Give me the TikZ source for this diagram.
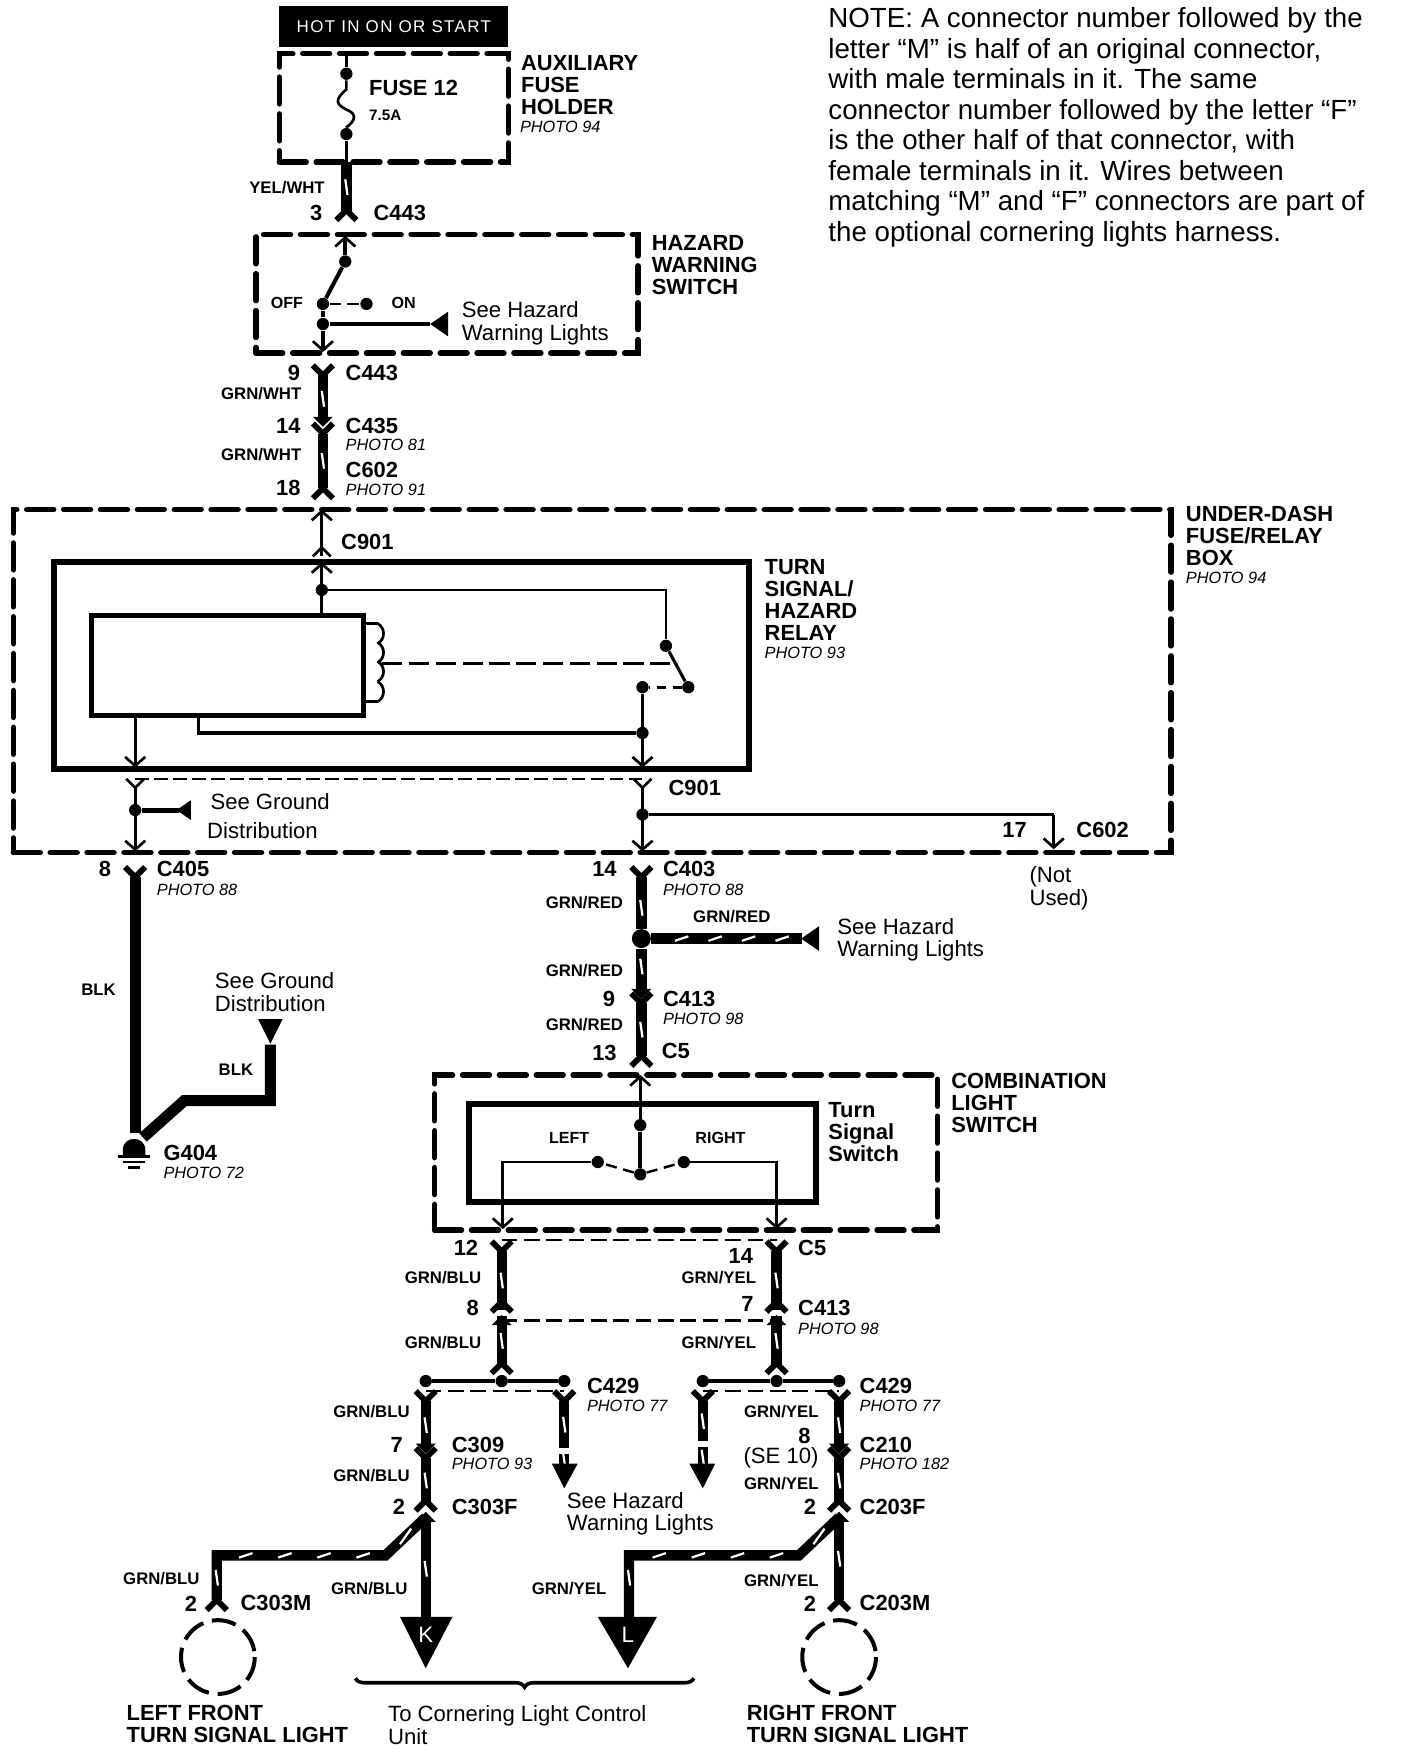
\documentclass[tikz,border=0pt]{standalone}
\usepackage{fontspec}
\setmainfont{Liberation Sans}
\usetikzlibrary{arrows.meta}
\usetikzlibrary{calc}
\usetikzlibrary{fit}
\usetikzlibrary{decorations.pathreplacing}

\tikzset{
  lab/.style={anchor=west,inner sep=0pt,align=left,font=\fontsize{9.8}{9.85}\selectfont\bfseries},
  conn/.style={anchor=west,inner sep=0pt,font=\fontsize{9.8}{10}\selectfont\bfseries},
  num/.style={inner sep=0pt,font=\fontsize{9.8}{10}\selectfont\bfseries},
  wcol/.style={anchor=east,inner sep=0pt,font=\fontsize{7.5}{8}\selectfont\bfseries},
  phot/.style={anchor=west,inner sep=0pt,font=\fontsize{7.3}{8}\selectfont\itshape},
  plain/.style={anchor=west,inner sep=0pt,align=left,font=\fontsize{9.9}{10}\selectfont},
  dot/.style={circle,fill=black,inner sep=0pt,minimum size=5.5pt},
  dashbox/.style={draw,inner sep=0pt,line width=2.5pt,line cap=round,dash pattern=on 12pt off 4.5pt},
  solidbox/.style={draw,inner sep=0pt,line width=2.8pt},
  thin wire/.style={line width=1.2pt},
  wire/.style={line width=4.6pt},
  whitetick/.style={draw=white,line width=1pt},
  thindash/.style={line width=1.1pt,dash pattern=on 7pt off 3pt},
  barb/.style={-{Straight Barb[length=4pt,width=9pt,line width=1.2pt]},line width=1.2pt},
  forkline/.style={line width=2.6pt,line join=round},
  forkup/.pic={\draw[forkline] (-9,9) -- (0,0) -- (9,9);},
  forkdn/.pic={\draw[forkline] (-9,-9) -- (0,0) -- (9,-9);},
  slimup/.pic={\draw[line width=1.2pt] (-8,8) -- (0,0) -- (8,8);},
  slimdn/.pic={\draw[line width=1.2pt] (-8,-8) -- (0,0) -- (8,-8);},
  headdn/.pic={\fill (-9,-8) -- (9,-8) -- (0,1) -- cycle;},
  headup/.pic={\fill (-9,8) -- (9,8) -- (0,-1) -- cycle;},
  triL/.pic={\fill (0,0) -- (16,-11) -- (16,11) -- cycle;},
  triD/.pic={\fill (0,0) -- (-11,-22) -- (11,-22) -- cycle;},
}

% harness wire with its white mark
\newcommand{\wirerun}[2]{
  \draw[wire] (#1) -- (#2);
  \draw[whitetick] ($(#1)!.5!(#2)+(-1,-7)$) -- ($(#1)!.5!(#2)+(1,7)$);
}
\newcommand{\htick}[2]{\draw[whitetick] (#1-6,#2+2) -- (#1+6,#2-2);}
\newcommand{\vtick}[2]{\draw[whitetick] (#1-1,#2-7) -- (#1+1,#2+7);}

\begin{document}
\begin{tikzpicture}[x=.5pt,y=-.5pt]
        \useasboundingbox (0,0) rectangle (1260,1568);

        % Note
        \node[anchor=north west,inner sep=0pt,align=left,font=\fontsize{12.4}{13.65}\selectfont] (note) at (741,6.5)
          {NOTE: A connector number followed by the\\letter ``M'' is half of an original connector,\\with male terminals in it. The same\\connector number followed by the letter ``F''\\is the other half of that connector, with\\female terminals in it. Wires between\\matching ``M'' and ``F'' connectors are part of\\the optional cornering lights harness.};

        % Boxes
        \node[fill=black,text=white,inner sep=0pt,minimum width=102.5pt,minimum height=18.5pt,font=\fontsize{7.6}{8}\selectfont\addfontfeature{LetterSpace=8}] (hot) at (352.5,24) {\raisebox{-1pt}{HOT IN ON OR START}};
        \node[dashbox,fit={(250,48)(455,145)}] (fusebox) {};
        \node[dashbox,fit={(229,210)(571,316)}] (hazbox) {};
        \node[dashbox,fit={(12,456)(1048,763)}] (dashfuse) {};
        \node[solidbox,fit={(48,503)(670,688)}] (relay) {};
        \node[draw,inner sep=0pt,line width=2.2pt,fit={(82,551)(325,640)}] (relayin) {};
        \node[dashbox,fit={(389,962)(839,1101)}] (combo) {};
        \node[solidbox,fit={(420,988)(730,1076)}] (turnsw) {};

        % Dots
        \foreach \n/\x/\y in {fa/310/66,fb/310/120,ha/309/234,hb/289/272,hc/328/272,hd/289/290,
          ra/288/528,rb/596/578,rc/616/615,rd/575/615,re/575/656,ga/121/725,ua/575/729,
          ta/573/1007,tb/535/1040,tc/612/1040,td/573/1051,
          la/381/1236,lb/449/1236,lc/505/1236,ma/629/1236,mb/695/1236,mc/751/1236}
        {
          \node[dot] (\n) at (\x,\y) {};
        }
        \node[dot,minimum size=8.5pt] (sp) at (574,840) {};

        % Wire ends
        \foreach \n/\x/\y in {f0/310/48,f1/310/145,f2/310/190,h0/309/211,h1/289/315,h2/385/290,
          a1/289/336,a2/289/378,a3/289/388,a4/289/437,
          u0/288/456,u1/288/490,u2/288/503,u3/288/551,u4/121/640,u5/121/687,u6/575/687,
          v1/121/705,v2/121/762,v3/575/705,v4/575/762,v5/943/729,v6/943/760,
          b1/121/785,b2/121/1014,b3/242/935,b4/242/985,b5/165/985,b6/128/1018,
          c1/574/785,c2/574/890,c3/574/898,c4/574/945,c5/718/840,
          s0/573/962,s1/450/1040,s2/450/1100,s3/695/1040,s4/695/1100,
          d1/449/1120,d2/449/1172,d3/449/1178,d4/449/1222,
          e1/695/1120,e2/695/1172,e3/695/1178,e4/695/1222,
          j1/381/1254,j2/381/1297,j3/381/1305,j4/381/1345,j5/381/1358,j6/381/1450,j7/345/1392,j8/194/1392,j9/194/1432,
          k1/505/1254,k2/505/1296,k3/505/1301,k4/505/1314,
          m1/629/1254,m2/629/1290,m3/629/1295,m4/629/1314,
          n1/751/1254,n2/751/1297,n3/751/1305,n4/751/1345,n5/751/1358,n6/751/1432,n7/715/1392,n8/563/1392,n9/563/1450}
        {
          \coordinate (\n) at (\x,\y);
        }

        % Fuse
        \draw[thin wire] (f0) -- (fa);
        \draw[thin wire] (fa) -- (310,80) .. controls (298,90) and (302,94) .. (310,98) .. controls (320,102) and (318,108) .. (310,114) -- (fb);
        \draw[thin wire] (fb) -- (f1);
        \wirerun{f1}{f2}
        \pic at (310,188) {forkup};

        % Hazard switch
        \draw[barb,line width=1.6pt] (ha) -- (h0);
        \draw[line width=1.8pt] (ha) -- (hb);
        \draw[thindash,dash pattern=on 5pt off 3pt] (hb) -- (hc);
        \draw[line width=1.8pt] (hb) -- (hd);
        \draw[barb,line width=1.6pt] (hd) -- (h1);
        \draw[line width=1.6pt] (hd) -- (h2);
        \pic at (h2) {triL};

        % Harness to under-dash box
        \pic at (a1) {forkdn};
        \wirerun{a1}{a2}
        \pic at (289,381) {headdn};
        \pic at (a3) {forkdn};
        \wirerun{a3}{a4}
        \pic at (a4) {forkup};

        % Under-dash box top
        \draw[barb] (u1) -- (u0);
        \draw[line width=1.2pt] (u1) -- (288,498);
        \pic at (u1) {slimup};
        \draw[barb] (u3) -- (u2);

        % Relay
        \draw[line width=1.2pt] (ra) -- (596,528) -- (rb);
        \draw[line width=1.4pt] (rb) -- (rc);
        \draw[thindash,line width=1.3pt,dash pattern=on 4pt off 3pt] (rc) -- (rd);
        \draw[barb] (rd) -- (u6);
        \draw[line width=1.4pt] (178,640) -- (178,656) -- (re);
        \draw[barb] (u4) -- (u5);
        \draw[line width=1.2pt] (325,558) -- (338,558);
        \draw[line width=1.2pt] (338,628) -- (325,628);
        \foreach \y in {558,575,592,610}
        {
          \draw[line width=1.2pt] (338,\y) .. controls (345,\y+4) and (345,\y+14) .. (338,\y+18);
        }
        \draw[line width=1.6pt,dash pattern=on 9pt off 3pt] (342,594) -- (606,594);

        % Relay outputs
        \draw[thindash,dash pattern=on 6pt off 2.5pt] (121,697) -- (575,697);
        \pic at (v1) {slimdn};
        \pic at (v3) {slimdn};
        \draw[barb] (v1) -- (v2);
        \draw[barb] (v3) -- (v4);
        \draw[line width=2.2pt] (ga) -- (160,725);
        \pic[scale=.8] at (158,725) {triL};
        \draw[line width=1.6pt] (ua) -- (v5);
        \draw[barb] (v5) -- (v6);

        % Ground wire
        \pic at (b1) {forkdn};
        \draw[wire,line width=5pt] (b1) -- (b2);
        \pic[scale=1] at (242,934) {triD};
        \draw[wire,line width=5pt] (b3) -- (b4) -- (b5) -- (b6);
        \fill (110,1034) -- (110,1029) .. controls (110,1016) and (130,1016) .. (130,1029) -- (130,1034) -- cycle;
        \draw[line width=1.2pt] (106,1035) -- (134,1035);
        \draw[line width=1.2pt] (110,1040) -- (130,1040);
        \draw[line width=1.2pt] (115,1045) -- (125,1045);

        % Centre harness
        \pic at (c1) {forkdn};
        \wirerun{c1}{sp}
        \draw[wire] (sp) -- (c5);
        \foreach \x in {610,640,670,700}
        {
          \htick{\x}{840}
        }
        \pic at (717,840) {triL};
        \wirerun{sp}{c2}
        \pic at (574,893) {headdn};
        \pic at (c3) {forkdn};
        \wirerun{c3}{c4}
        \pic at (c4) {forkup};

        % Turn signal switch
        \draw[barb] (ta) -- (s0);
        \draw[line width=1.8pt] (ta) -- (td);
        \draw[thindash,dash pattern=on 5pt off 3pt] (td) -- (tb);
        \draw[thindash,dash pattern=on 5pt off 3pt] (td) -- (tc);
        \draw[barb] (tb) -- (s1) -- (s2);
        \draw[barb] (tc) -- (s3) -- (s4);

        % Left and right harness
        \draw[thindash] (449,1110) -- (695,1110);
        \draw[thindash] (449,1182) -- (695,1182);
        \foreach \a/\b/\c/\d/\x in {d1/d2/d3/d4/449,e1/e2/e3/e4/695}
        {
          \pic at (\a) {forkdn};
          \wirerun{\a}{\b}
          \pic at (\x,1165) {forkup};
          \pic at (\x,1178) {headup};
          \wirerun{\c}{\d}
          \pic at (\x,1220) {forkup};
        }

        % C429 bars
        \draw[line width=1.8pt] (la) -- (lb) -- (lc);
        \draw[line width=1.8pt] (ma) -- (mb) -- (mc);
        \draw[thindash] (381,1245) -- (505,1245);
        \draw[thindash] (629,1245) -- (751,1245);
        \foreach \a in {j1,k1,m1,n1}
        {
          \pic at (\a) {forkdn};
        }

        % Side branches
        \wirerun{j1}{j2}
        \pic at (381,1300) {headdn};
        \pic at (j3) {forkdn};
        \wirerun{j3}{j4}
        \pic at (381,1343) {forkup};
        \pic at (381,1354) {headup};
        \wirerun{j5}{j6}
        \draw[wire,line join=miter] (j5) -- (j7) -- (j8) -- (j9);
        \pic at (j9) {forkup};
        \foreach \x in {220,255,290,325}
        {
          \htick{\x}{1392}
        }
        \vtick{194}{1412}
        \draw[whitetick] (368,1368) -- (358,1382);
        \wirerun{n1}{n2}
        \pic at (751,1300) {headdn};
        \pic at (n3) {forkdn};
        \wirerun{n3}{n4}
        \pic at (751,1343) {forkup};
        \pic at (751,1354) {headup};
        \wirerun{n5}{n6}
        \pic at (n6) {forkup};
        \draw[wire,line join=miter] (n5) -- (n7) -- (n8) -- (n9);
        \foreach \x in {590,625,660,695}
        {
          \htick{\x}{1392}
        }
        \vtick{563}{1412}
        \draw[whitetick] (738,1368) -- (728,1382);

        % Arrows to hazard lights
        \wirerun{k1}{k2}
        \wirerun{k3}{k4}
        \wirerun{m1}{m2}
        \wirerun{m3}{m4}
        \fill (494,1310) -- (517,1310) -- (505,1332) -- cycle;
        \fill (617,1310) -- (640,1310) -- (629,1332) -- cycle;

        % K and L arrows
        \fill (358,1447) -- (405,1447) -- (381,1493) -- cycle;
        \fill (535,1447) -- (588,1447) -- (562,1493) -- cycle;
        \node[text=white,font=\fontsize{10}{10}\selectfont,inner sep=0pt] (kk) at (381,1463) {K};
        \node[text=white,font=\fontsize{10}{10}\selectfont,inner sep=0pt] (ll) at (562,1463) {L};

        % Lamps
        \draw[line width=1.8pt,dash pattern=on 11pt off 4pt] (195,1483) circle[radius=33];
        \draw[line width=1.8pt,dash pattern=on 11pt off 4pt] (751,1483) circle[radius=33];

        % Brace
        \draw[line width=1.6pt,decorate,decoration={brace,mirror,amplitude=4pt}] (318,1502) -- (621,1502);

        % Component names
        \node[lab] (aux) at (466,76) {AUXILIARY\\FUSE\\HOLDER};
        \node[lab] (haz) at (583,237) {HAZARD\\WARNING\\SWITCH};
        \node[lab] (under) at (1061,480) {UNDER-DASH\\FUSE/RELAY\\BOX};
        \node[lab] (tsr) at (684,537) {TURN\\SIGNAL/\\HAZARD\\RELAY};
        \node[lab] (cls) at (851,987) {COMBINATION\\LIGHT\\SWITCH};
        \node[lab] (tss) at (741,1013) {Turn\\Signal\\Switch};
        \node[lab] (lft) at (113,1543) {LEFT FRONT\\TURN SIGNAL LIGHT};
        \node[lab] (rft) at (668,1543) {RIGHT FRONT\\TURN SIGNAL LIGHT};
        \node[lab] (fuse) at (330,79) {FUSE 12};
        \node[plain,font=\fontsize{6.8}{7}\selectfont\bfseries] (amp) at (330,103) {7.5A};
        \node[plain,font=\fontsize{7.2}{8}\selectfont\bfseries] (off) at (242,271) {OFF};
        \node[plain,font=\fontsize{7.2}{8}\selectfont\bfseries] (on) at (350,271) {ON};
        \node[plain,font=\fontsize{7.2}{8}\selectfont\bfseries] (lef) at (491,1018) {LEFT};
        \node[plain,font=\fontsize{7.2}{8}\selectfont\bfseries] (rig) at (622,1018) {RIGHT};

        % Plain notes
        \node[plain] (sh1) at (413,289) {See Hazard\\[.2pt]Warning Lights};
        \node[plain] (sg1) at (188,717) {See Ground};
        \node[plain] (sg2) at (185,743) {Distribution};
        \node[plain] (nu) at (921,795) {(Not\\Used)};
        \node[plain] (sg3) at (192,888) {See Ground\\Distribution};
        \node[plain] (sh2) at (749,841) {See Hazard\\Warning Lights};
        \node[plain] (sh3) at (507,1355) {See Hazard\\Warning Lights};
        \node[plain] (tcl) at (347,1544) {To Cornering Light Control\\Unit};
        \node[plain,anchor=center] (se) at (699,1305) {(SE 10)};

        % Connector names
        \foreach \n/\x/\y/\txt in {q1/334/191/C443,q2/309/334/C443,q3/309/381/C435,q4/309/421/C602,q5/305/485/C901,
          q6/598/705/C901,q7/963/743/C602,q8/140/778/C405,q9/593/778/C403,q10/593/894/C413,q11/592/941/C5,
          q12/146/1032/G404,q13/714/1117/C5,q14/714/1171/C413,q15/525/1240/C429,q16/769/1240/C429,
          q17/404/1293/C309,q18/769/1293/C210,q19/404/1349/C303F,q20/769/1349/C203F,q21/215/1435/C303M,q22/769/1435/C203M}
        {
          \node[conn] (\n) at (\x,\y) {\txt};
        }

        % Photo numbers
        \foreach \n/\x/\y/\txt in {p1/465/114/94,p2/309/398/81,p3/309/438/91,p4/1061/517/94,p5/684/584/93,
          p6/140/796/88,p7/593/796/88,p8/593/912/98,p9/146/1050/72,p10/714/1189/98,p11/525/1258/77,
          p12/769/1258/77,p13/404/1310/93,p14/769/1310/182}
        {
          \node[phot] (\n) at (\x,\y) {PHOTO \txt};
        }

        % Pin numbers
        \foreach \n/\x/\y/\txt in {r1/283/191/3,r2/263/334/9,r3/258/381/14,r4/258/437/18,r5/908/743/17,
          r6/94/778/8,r7/541/778/14,r8/545/894/9,r9/541/942/13,r10/417/1117/12,r11/663/1124/14,
          r12/423/1171/8,r13/669/1167/7,r14/355/1293/7,r15/720/1285/8,r16/357/1349/2,r17/725/1349/2,
          r18/171/1435/2,r19/725/1435/2}
        {
          \node[num] (\n) at (\x,\y) {\txt};
        }

        % Wire colours
        \foreach \n/\x/\y/\txt in {w1/291/168/{YEL/WHT},w2/270/352/{GRN/WHT},w3/270/407/{GRN/WHT},w4/104/886/{BLK},w5/227/957/{BLK},
          w6/558/808/{GRN/RED},w7/690/820/{GRN/RED},w8/558/869/{GRN/RED},w9/558/917/{GRN/RED},w10/431/1143/{GRN/BLU},
          w11/431/1202/{GRN/BLU},w12/677/1143/{GRN/YEL},w13/677/1202/{GRN/YEL},w14/367/1263/{GRN/BLU},w15/367/1321/{GRN/BLU},
          w16/733/1263/{GRN/YEL},w17/733/1328/{GRN/YEL},w18/179/1413/{GRN/BLU},w19/365/1422/{GRN/BLU},w20/543/1422/{GRN/YEL},w21/733/1415/{GRN/YEL}}
        {
          \node[wcol] (\n) at (\x,\y) {\txt};
        }
\end{tikzpicture}
\end{document}
